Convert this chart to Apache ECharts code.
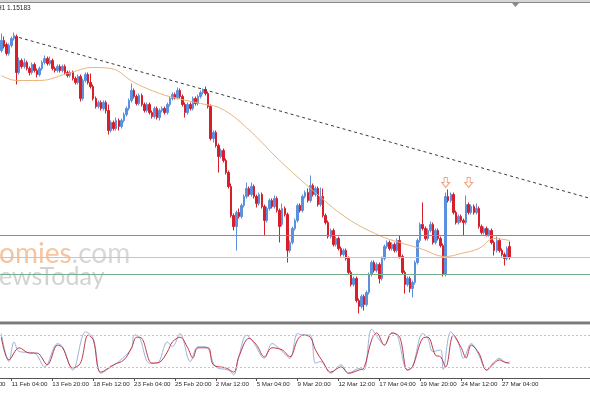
<!DOCTYPE html>
<html><head><meta charset="utf-8">
<script src="https://cdn.jsdelivr.net/npm/echarts@6/dist/echarts.min.js"></script>
<style>html,body{margin:0;padding:0;background:#fff;}#c{width:590px;height:393px;}</style>
</head><body><div id="c"></div>
<script>
// ---- H4 candles (price), bar 0 = 10 Feb 12:00 ... bar 199 = 27 Mar 16:00 ----
const opens=[1.1932,1.1952,1.1944,1.1926,1.1942,1.1956,1.1960,1.1888,1.1912,1.1900,
1.1908,1.1896,1.1888,1.1904,1.1892,1.1884,1.1896,1.1908,1.1916,1.1906,
1.1912,1.1896,1.1892,1.1900,1.1892,1.1900,1.1888,1.1882,1.1888,1.1876,
1.1868,1.1880,1.1836,1.1872,1.1884,1.1868,1.1860,1.1836,1.1820,1.1828,
1.1816,1.1828,1.1812,1.1772,1.1788,1.1776,1.1792,1.1780,1.1792,1.1804,
1.1816,1.1832,1.1852,1.1840,1.1826,1.1842,1.1824,1.1812,1.1824,1.1808,
1.1800,1.1816,1.1798,1.1812,1.1816,1.1808,1.1824,1.1836,1.1844,1.1838,
1.1852,1.1840,1.1824,1.1808,1.1824,1.1816,1.1836,1.1826,1.1840,1.1848,
1.1854,1.1846,1.1820,1.1756,1.1768,1.1742,1.1720,1.1732,1.1712,1.1688,
1.1660,1.1602,1.1580,1.1608,1.1600,1.1622,1.1640,1.1656,1.1644,1.1660,
1.1640,1.1626,1.1644,1.1620,1.1592,1.1616,1.1632,1.1620,1.1636,1.1612,
1.1584,1.1616,1.1604,1.1532,1.1548,1.1576,1.1592,1.1622,1.1612,1.1640,
1.1648,1.1632,1.1662,1.1644,1.1656,1.1624,1.1640,1.1602,1.1588,1.1560,
1.1572,1.1544,1.1556,1.1536,1.1524,1.1532,1.1516,1.1488,1.1464,1.1476,
1.1432,1.1420,1.1440,1.1424,1.1448,1.1484,1.1508,1.1492,1.1504,1.1476,
1.1516,1.1540,1.1548,1.1536,1.1544,1.1532,1.1552,1.1520,1.1488,1.1464,
1.1476,1.1456,1.1468,1.1508,1.1552,1.1584,1.1576,1.1556,1.1572,1.1584,
1.1548,1.1572,1.1556,1.1542,1.1484,1.1640,1.1632,1.1644,1.1608,1.1588,
1.1600,1.1592,1.1588,1.1624,1.1608,1.1620,1.1608,1.1616,1.1580,1.1568,
1.1576,1.1564,1.1572,1.1548,1.1532,1.1552,1.1532,1.1524,1.1516,1.1540];
const closes=[1.1952,1.1940,1.1926,1.1942,1.1956,1.1962,1.1888,1.1912,1.1900,1.1908,
1.1896,1.1888,1.1904,1.1892,1.1884,1.1896,1.1908,1.1916,1.1906,1.1912,
1.1896,1.1892,1.1900,1.1892,1.1900,1.1888,1.1882,1.1888,1.1876,1.1868,
1.1880,1.1836,1.1872,1.1884,1.1868,1.1860,1.1836,1.1820,1.1828,1.1816,
1.1828,1.1812,1.1772,1.1788,1.1776,1.1792,1.1780,1.1792,1.1804,1.1816,
1.1832,1.1852,1.1840,1.1826,1.1842,1.1824,1.1812,1.1824,1.1808,1.1800,
1.1816,1.1798,1.1812,1.1816,1.1808,1.1824,1.1836,1.1844,1.1838,1.1852,
1.1840,1.1824,1.1808,1.1824,1.1816,1.1836,1.1826,1.1840,1.1848,1.1854,
1.1846,1.1820,1.1756,1.1768,1.1742,1.1720,1.1732,1.1712,1.1688,1.1660,
1.1602,1.1580,1.1608,1.1600,1.1622,1.1640,1.1656,1.1644,1.1660,1.1640,
1.1626,1.1644,1.1620,1.1592,1.1616,1.1632,1.1620,1.1636,1.1612,1.1580,
1.1616,1.1604,1.1532,1.1548,1.1576,1.1592,1.1622,1.1612,1.1640,1.1648,
1.1632,1.1662,1.1644,1.1656,1.1624,1.1640,1.1602,1.1588,1.1560,1.1572,
1.1544,1.1556,1.1536,1.1524,1.1532,1.1516,1.1488,1.1464,1.1476,1.1432,
1.1420,1.1440,1.1424,1.1448,1.1484,1.1508,1.1492,1.1504,1.1476,1.1516,
1.1540,1.1548,1.1536,1.1544,1.1532,1.1552,1.1520,1.1488,1.1464,1.1476,
1.1456,1.1468,1.1508,1.1552,1.1584,1.1576,1.1556,1.1572,1.1584,1.1548,
1.1572,1.1556,1.1542,1.1484,1.1640,1.1632,1.1644,1.1608,1.1588,1.1600,
1.1592,1.1588,1.1624,1.1608,1.1620,1.1608,1.1616,1.1580,1.1568,1.1576,
1.1564,1.1572,1.1548,1.1532,1.1552,1.1532,1.1524,1.1516,1.1536,1.1518];
const highs=[1.1966,1.1960,1.1948,1.1946,1.1960,1.1968,1.1964,1.1918,1.1916,1.1916,
1.1912,1.1900,1.1908,1.1908,1.1896,1.1900,1.1912,1.1922,1.1920,1.1920,
1.1916,1.1900,1.1904,1.1904,1.1904,1.1904,1.1892,1.1892,1.1892,1.1880,
1.1884,1.1884,1.1876,1.1888,1.1888,1.1886,1.1864,1.1840,1.1832,1.1832,
1.1832,1.1832,1.1824,1.1792,1.1792,1.1798,1.1796,1.1796,1.1808,1.1820,
1.1836,1.1866,1.1856,1.1844,1.1846,1.1846,1.1828,1.1828,1.1828,1.1812,
1.1820,1.1820,1.1816,1.1820,1.1820,1.1828,1.1840,1.1848,1.1848,1.1858,
1.1856,1.1844,1.1828,1.1828,1.1828,1.1840,1.1840,1.1844,1.1852,1.1856,
1.1860,1.1850,1.1824,1.1772,1.1772,1.1746,1.1736,1.1736,1.1716,1.1692,
1.1666,1.1606,1.1612,1.1616,1.1626,1.1644,1.1668,1.1660,1.1668,1.1664,
1.1644,1.1648,1.1648,1.1624,1.1620,1.1636,1.1636,1.1642,1.1640,1.1616,
1.1626,1.1620,1.1608,1.1552,1.1580,1.1596,1.1626,1.1626,1.1644,1.1652,
1.1656,1.1682,1.1666,1.1660,1.1660,1.1658,1.1656,1.1606,1.1592,1.1576,
1.1576,1.1560,1.1560,1.1540,1.1536,1.1536,1.1520,1.1492,1.1480,1.1480,
1.1436,1.1444,1.1444,1.1452,1.1488,1.1512,1.1512,1.1508,1.1508,1.1520,
1.1544,1.1552,1.1552,1.1548,1.1548,1.1556,1.1562,1.1524,1.1492,1.1480,
1.1480,1.1472,1.1512,1.1556,1.1588,1.1628,1.1580,1.1576,1.1590,1.1588,
1.1576,1.1576,1.1560,1.1546,1.1648,1.1654,1.1648,1.1648,1.1612,1.1604,
1.1604,1.1596,1.1642,1.1628,1.1624,1.1624,1.1626,1.1620,1.1584,1.1580,
1.1580,1.1576,1.1576,1.1552,1.1560,1.1556,1.1536,1.1528,1.1540,1.1550];
const lows=[1.1928,1.1936,1.1922,1.1922,1.1938,1.1952,1.1864,1.1884,1.1896,1.1896,
1.1892,1.1882,1.1884,1.1888,1.1878,1.1880,1.1892,1.1904,1.1902,1.1902,
1.1892,1.1888,1.1888,1.1888,1.1888,1.1884,1.1878,1.1878,1.1872,1.1864,
1.1864,1.1830,1.1832,1.1868,1.1864,1.1856,1.1832,1.1816,1.1816,1.1812,
1.1812,1.1806,1.1764,1.1768,1.1772,1.1772,1.1772,1.1776,1.1788,1.1800,
1.1812,1.1828,1.1836,1.1822,1.1822,1.1820,1.1808,1.1808,1.1804,1.1796,
1.1796,1.1794,1.1792,1.1808,1.1804,1.1804,1.1820,1.1832,1.1834,1.1834,
1.1836,1.1820,1.1798,1.1804,1.1812,1.1812,1.1822,1.1822,1.1836,1.1844,
1.1842,1.1816,1.1752,1.1748,1.1738,1.1688,1.1716,1.1708,1.1684,1.1656,
1.1598,1.1572,1.1532,1.1596,1.1596,1.1618,1.1636,1.1640,1.1640,1.1636,
1.1618,1.1622,1.1616,1.1562,1.1588,1.1612,1.1616,1.1616,1.1608,1.1548,
1.1580,1.1600,1.1508,1.1528,1.1544,1.1572,1.1588,1.1608,1.1608,1.1636,
1.1628,1.1628,1.1640,1.1640,1.1620,1.1620,1.1598,1.1584,1.1556,1.1556,
1.1540,1.1540,1.1532,1.1520,1.1520,1.1512,1.1484,1.1460,1.1460,1.1428,
1.1406,1.1416,1.1412,1.1420,1.1444,1.1480,1.1488,1.1488,1.1466,1.1472,
1.1512,1.1536,1.1532,1.1532,1.1528,1.1528,1.1516,1.1484,1.1446,1.1460,
1.1448,1.1438,1.1464,1.1504,1.1548,1.1572,1.1552,1.1552,1.1568,1.1544,
1.1544,1.1552,1.1538,1.1480,1.1480,1.1628,1.1628,1.1604,1.1584,1.1584,
1.1588,1.1562,1.1584,1.1604,1.1604,1.1604,1.1604,1.1576,1.1564,1.1564,
1.1560,1.1560,1.1544,1.1522,1.1528,1.1528,1.1520,1.1502,1.1512,1.1514];

// moving average: [bar, price]
const maPoints=[[0,1.1882],[6,1.1872],[15,1.1872],[26,1.1886],[36,1.1898],[43,1.1896],[52,1.1868],[62,1.1846],[69,1.1836],[78,1.1826],[86,1.1816],[96,1.1778],[109,1.1712],[122,1.1652],[135,1.1598],[148,1.1562],[156,1.1548],[164,1.1536],[174,1.1520],[180,1.1526],[187,1.1536],[193,1.1556],[199,1.1552]];
// dotted trend line end points: [bar, price]
const trendPoints=[[7,1.1958],[230,1.1637]];
// horizontal levels: resistance, bid, support
const levelPrices=[1.1562,1.1518,1.1484];
const levelColors=['#dc6a6a','#c4c4c4','#78b089'];
// marker arrows
const arrowBars=[174,183];
const arrowPrice=1.1668;
// stochastic (0-100): [bar, value]
const stochMain=[[0,84],[3,31],[5,68],[7,50],[13,47],[17,21],[22,65],[24,59],[28,15],[33,87],[36,75],[39,9],[43,21],[46,31],[51,56],[52,81],[54,78],[58,28],[61,28],[65,68],[67,59],[70,84],[74,31],[77,59],[80,59],[84,21],[89,15],[91,6],[93,40],[96,81],[99,65],[103,37],[106,65],[110,50],[113,37],[116,84],[118,81],[121,81],[123,28],[125,31],[129,9],[133,25],[136,9],[140,18],[142,15],[145,92],[148,72],[150,62],[153,85],[155,81],[159,15],[161,21],[165,84],[167,75],[169,50],[172,53],[173,16],[176,87],[179,65],[181,37],[184,65],[187,43],[190,15],[193,31],[195,37],[198,28],[199,31]];
const stochSignal=[[0,77],[3,34],[7,57],[11,47],[14,47],[18,25],[22,62],[24,57],[28,19],[31,28],[34,81],[36,72],[39,11],[44,25],[48,34],[51,57],[53,77],[55,75],[59,28],[62,30],[65,49],[67,68],[70,77],[73,57],[75,38],[77,57],[81,57],[83,25],[88,19],[91,11],[93,40],[97,75],[100,62],[103,40],[106,57],[110,53],[113,40],[116,72],[118,81],[121,77],[123,53],[126,30],[129,11],[133,21],[136,9],[140,15],[142,19],[145,72],[147,85],[150,62],[153,85],[156,77],[159,15],[161,21],[165,75],[167,77],[170,43],[172,40],[174,21],[177,81],[180,58],[182,38],[184,62],[187,47],[190,15],[193,28],[195,34],[197,30],[199,28]];
const stochLevels=[80,20];
// time axis labels
const tickLabels=['11 Feb 04:00','13 Feb 20:00','18 Feb 12:00','23 Feb 04:00','25 Feb 20:00','2 Mar 12:00','5 Mar 04:00','9 Mar 20:00','12 Mar 12:00','17 Mar 04:00','19 Mar 20:00','24 Mar 12:00','27 Mar 04:00'];
const firstTickBar=4, tickStep=16, totalSlots=231;

const labelMap={};
tickLabels.forEach((t,k)=>{labelMap[firstTickBar+k*tickStep]=t;});
const cats=[];for(let i=0;i<totalSlots;i++)cats.push(String(i));
const candles=opens.map((o,i)=>[o,closes[i],lows[i],highs[i]]);

const UP='#5b90de', DN='#d61f2b';
const FONT="'Liberation Sans',sans-serif";
const levelSeries=levelPrices.map((p,k)=>({
  type:'line',xAxisIndex:0,yAxisIndex:0,data:[],z:2,
  markLine:{silent:true,symbol:'none',precision:5,label:{show:false},
    lineStyle:{color:levelColors[k],width:1,type:'solid'},data:[{yAxis:p}]}
}));
const chart=echarts.init(document.getElementById('c'),null,{renderer:'canvas'});
chart.setOption({
  animation:false,
  backgroundColor:'#ffffff',
  grid:[{left:0,right:0,top:4.5,height:316},{left:0,right:0,top:325,height:53}],
  xAxis:[
    {type:'category',gridIndex:0,data:cats,boundaryGap:true,show:false},
    {type:'category',gridIndex:1,data:cats,boundaryGap:true,
     axisLine:{show:true,lineStyle:{color:'#555',width:1}},
     axisTick:{show:true,alignWithLabel:true,length:3,interval:(i)=>labelMap[i]!==undefined,lineStyle:{color:'#555'}},
     axisLabel:{show:true,interval:(i)=>labelMap[i]!==undefined,formatter:(v,i)=>labelMap[i]||'',align:'left',margin:3,
       color:'#2a2a2a',fontSize:6.2,fontFamily:FONT}}
  ],
  yAxis:[
    {type:'value',gridIndex:0,min:1.1392,max:1.2024,show:false,splitLine:{show:false}},
    {type:'value',gridIndex:1,min:0,max:100,show:false,splitLine:{show:false}}
  ],
  graphic:[
    {type:'rect',z:0,shape:{x:0,y:0,width:590,height:2},style:{fill:'#d6d6d6'}},
    {type:'line',z:0,shape:{x1:0,y1:2.5,x2:590,y2:2.5},style:{stroke:'#8a8a8a',lineWidth:1}},
    {type:'polygon',z:0,shape:{points:[[512,3],[519,3],[515.5,7]]},style:{fill:'#8a8a8a'}},
    {type:'text',z:0,x:-3,y:5,style:{text:'H1 1.15183',fill:'#222',font:"6.5px 'Liberation Sans',sans-serif",verticalAlign:'top'}},
    {type:'text',z:0,x:-1,y:253.5,style:{text:'{a|omies}{b|.com}',font:"28px Lato",verticalAlign:'middle',
      rich:{a:{fill:'#f5c5a2',font:"28px Lato"},b:{fill:'#d8d8d8',font:"28px Lato"}}}},
    {type:'text',z:0,x:-1,y:277,style:{text:'ewsToday',fill:'#d2d2d2',font:"25px Lato",verticalAlign:'middle'}},
    {type:'rect',z:10,shape:{x:0,y:321.5,width:590,height:2.5},style:{fill:'#7a7a7a'}},
    {type:'line',z:10,shape:{x1:0,y1:324.5,x2:590,y2:324.5},style:{stroke:'#c8c8c8',lineWidth:1}},
    {type:'text',z:0,x:-27.5,y:381.5,style:{text:'9 Feb 12:00',fill:'#2a2a2a',font:"6.2px 'Liberation Sans',sans-serif",verticalAlign:'top'}}
  ],
  series:[
    ...levelSeries,
    {type:'candlestick',xAxisIndex:0,yAxisIndex:0,data:candles,barWidth:2,z:3,
     itemStyle:{color:UP,color0:DN,borderColor:UP,borderColor0:DN,borderWidth:1}},
    {type:'line',xAxisIndex:0,yAxisIndex:0,data:maPoints,smooth:0.4,showSymbol:false,z:4,
     lineStyle:{color:'#e9b47c',width:1}},
    {type:'line',xAxisIndex:0,yAxisIndex:0,data:trendPoints,showSymbol:false,z:4,
     lineStyle:{color:'#3a3a3a',width:1,type:[3,3]}},
    {type:'scatter',xAxisIndex:0,yAxisIndex:0,data:arrowBars.map(b=>[b,arrowPrice]),z:5,
     symbol:'path://M3,0L7,0L7,5L10,5L5,10L0,5L3,5Z',symbolSize:[8,10],
     itemStyle:{color:'rgba(255,255,255,0)',borderColor:'#ef8a5a',borderWidth:1}},
    {type:'line',xAxisIndex:1,yAxisIndex:1,data:stochMain,smooth:0.35,showSymbol:false,z:3,
     lineStyle:{color:'#9fb3d8',width:1},
     markLine:{silent:true,symbol:'none',label:{show:false},
       data:stochLevels.map(v=>({yAxis:v})),lineStyle:{color:'#c4c4c4',width:1,type:[2,2]}}},
    {type:'line',xAxisIndex:1,yAxisIndex:1,data:stochSignal,smooth:0.35,showSymbol:false,z:4,
     lineStyle:{color:'#c0394a',width:1}}
  ]
});
</script></body></html>
